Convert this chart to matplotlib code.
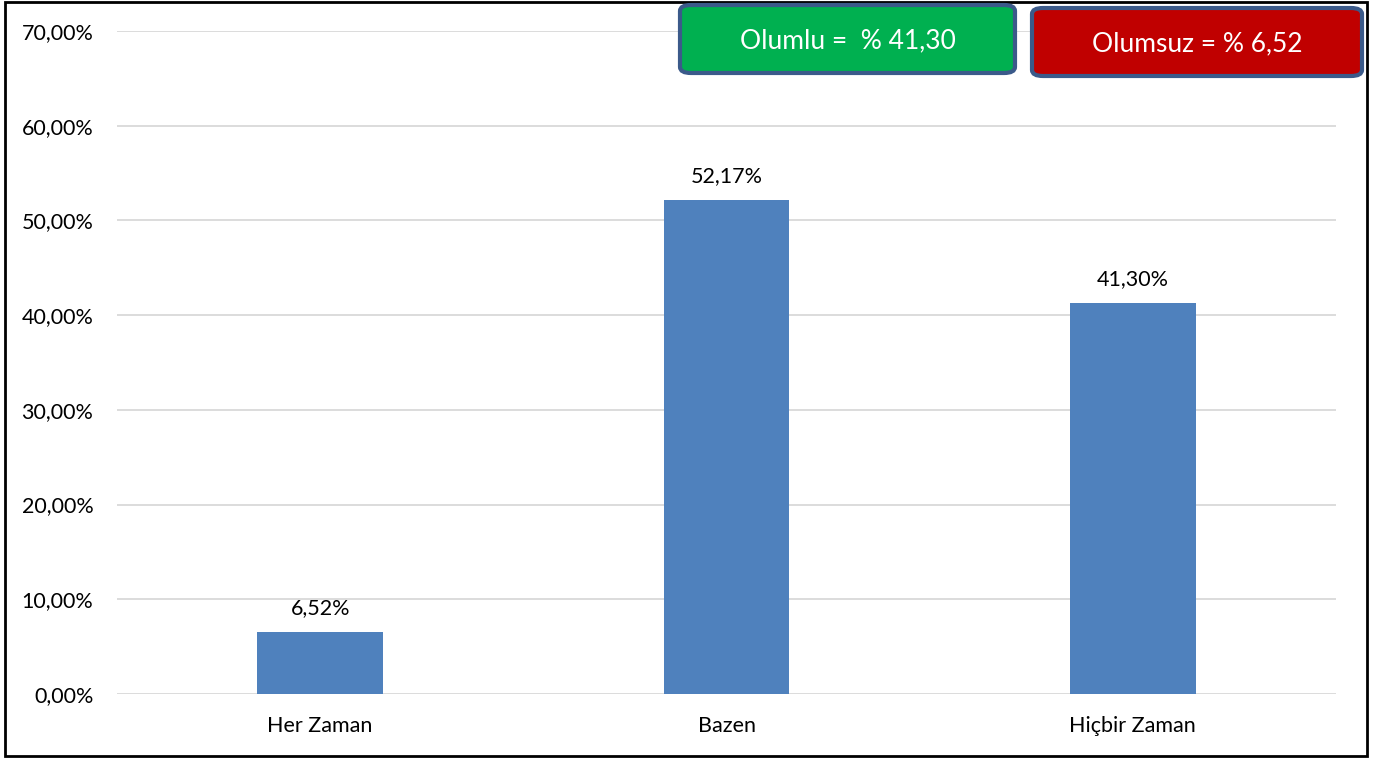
import matplotlib.pyplot as plt
from matplotlib.patches import FancyBboxPatch, Rectangle
from matplotlib.ticker import FuncFormatter

plt.rcParams['font.family'] = ['Lato', 'DejaVu Sans']

categories = ['Her Zaman', 'Bazen', 'Hiçbir Zaman']
values = [6.52, 52.17, 41.30]
value_labels = ['6,52%', '52,17%', '41,30%']
yticks = [0, 10, 20, 30, 40, 50, 60, 70]
box_texts = ['Olumlu =  % 41,30', 'Olumsuz = % 6,52']

W, H = 1383, 758
fig = plt.figure(figsize=(W / 100, H / 100), dpi=100)
ax = fig.add_axes([117 / W, 1 - 694 / H, (1336 - 117) / W, (694 - 31) / H])

x = range(len(categories))
ax.bar(x, values, width=0.31, color='#4F81BD', zorder=3)
for xi, v, lab in zip(x, values, value_labels):
    ax.annotate(lab, (xi, v), xytext=(0, 10), textcoords='offset points',
                ha='center', va='bottom', fontsize=15.5, color='#000000')

ax.set_xlim(-0.5, 2.5)
ax.set_ylim(0, 70)
ax.set_yticks(yticks)
ax.yaxis.set_major_formatter(FuncFormatter(lambda v, p: ('%.2f%%' % v).replace('.', ',')))
ax.set_xticks(list(x))
ax.set_xticklabels(categories)
ax.tick_params(axis='both', length=0, labelsize=15.5, colors='#000000')
ax.tick_params(axis='y', pad=17)
ax.tick_params(axis='x', pad=16)
ax.grid(axis='y', color='#D9D9D9', linewidth=1.3, zorder=0)
for s in ax.spines.values():
    s.set_visible(False)

# kutular
boxes = [
    ((680, 5, 1015, 73), '#00B050'),
    ((1032, 8, 1362, 76), '#C00000'),
]
for (x0, y0, x1, y1), color in boxes:
    fig.patches.append(FancyBboxPatch(
        (x0 / W, 1 - y1 / H), (x1 - x0) / W, (y1 - y0) / H,
        boxstyle='round,pad=0,rounding_size=0.008', transform=fig.transFigure,
        facecolor=color, edgecolor='#3B5A8A', linewidth=3, zorder=5))
for ((x0, y0, x1, y1), _), txt in zip(boxes, box_texts):
    fig.text((x0 + x1) / 2 / W, 1 - (y0 + y1 + 4) / 2 / H, txt, color='white',
             fontsize=19, ha='center', va='center', zorder=6)

# dış çerçeve
fig.patches.append(Rectangle((5 / W, 2 / H), (1367 - 5) / W, (756 - 2) / H,
                             transform=fig.transFigure, fill=False,
                             edgecolor='black', linewidth=2, zorder=4))

fig.savefig('out.png', dpi=100)
